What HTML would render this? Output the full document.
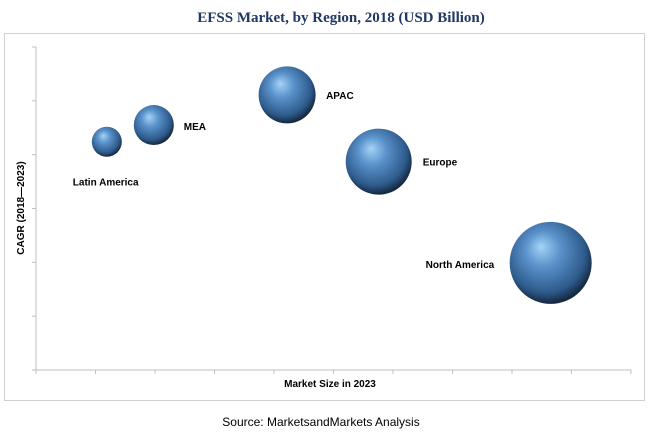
<!DOCTYPE html>
<html><head><meta charset="utf-8"><style>
body{margin:0;background:#fff;}
svg text{font-family:"Liberation Sans",sans-serif;}
</style></head><body>
<svg width="650" height="438" xmlns="http://www.w3.org/2000/svg">
<defs>
<radialGradient id="g" cx="0.45" cy="0.4" r="0.6" fx="0.38" fy="0.3">
<stop offset="0" stop-color="#a6d4f7"/>
<stop offset="0.35" stop-color="#5b93cc"/>
<stop offset="0.8" stop-color="#2e5b8c"/>
<stop offset="1" stop-color="#15263d"/>
</radialGradient>
</defs>
<text x="341" y="22" text-anchor="middle" style="font-family:'Liberation Serif',serif;font-weight:bold;font-size:15px;fill:#1f3864">EFSS Market, by Region, 2018 (USD Billion)</text>
<rect x="4.5" y="33.5" width="640" height="367" fill="none" stroke="#d0d0d0"/>
<g id="axes"></g>
<g id="marks"></g>
<text transform="translate(24,208) rotate(-90)" text-anchor="middle" style="font-weight:bold;font-size:10px;fill:#000">CAGR (2018—2023)</text>
<text x="330" y="387" text-anchor="middle" style="font-weight:bold;font-size:10px;fill:#000">Market Size in 2023</text>
<text x="321" y="426" text-anchor="middle" style="font-size:12px;fill:#000">Source: MarketsandMarkets Analysis</text>
</svg>
<script>
const regions=["Latin America","MEA","APAC","Europe","North America"];
const marketSize=[1.19,1.98,4.22,5.76,8.65];
const cagr=[4.24,4.55,5.11,3.87,1.99];
const bubbleSize=[15,20,28.5,33,41];
const labelDx=[-34,30,39,44,-125];
const labelDy=[44,5,4,4,5];
const xTicks=[0,1,2,3,4,5,6,7,8,9,10];
const yTicks=[0,1,2,3,4,5,6];
const X0=36,X1=631,Y0=370,Y1=47;
function sx(v){return X0+(X1-X0)*v/10;}
function sy(v){return Y0-(Y0-Y1)*v/6;}
const NS="http://www.w3.org/2000/svg";
const axes=document.getElementById('axes'),marks=document.getElementById('marks');
function mk(t,a,p){const e=document.createElementNS(NS,t);for(const k in a)e.setAttribute(k,a[k]);p.appendChild(e);return e;}
let l=mk('line',{x1:X0,y1:Y0,x2:X0,y2:Y1,stroke:'#bfbfbf'},axes);


l=mk('line',{x1:X0,y1:Y0,x2:X1,y2:Y0,stroke:'#bfbfbf'},axes);


yTicks.forEach(v=>{const t=mk('line',{x1:X0-4,x2:X0,y1:sy(v),y2:sy(v),stroke:'#bfbfbf'},axes);

});
xTicks.forEach(v=>{const t=mk('line',{x1:sx(v),x2:sx(v),y1:Y0,y2:Y0+4,stroke:'#bfbfbf'},axes);

});
regions.forEach((r,i)=>{
const cx=sx(marketSize[i]),cy=sy(cagr[i]);
const c=mk('circle',{cx:cx,cy:cy,r:bubbleSize[i],fill:'url(#g)'},marks);


const t=mk('text',{x:cx+labelDx[i],y:cy+labelDy[i],style:'font-weight:bold;font-size:10px;fill:#000'},marks);
t.textContent=r;


});
</script>
</body></html>
